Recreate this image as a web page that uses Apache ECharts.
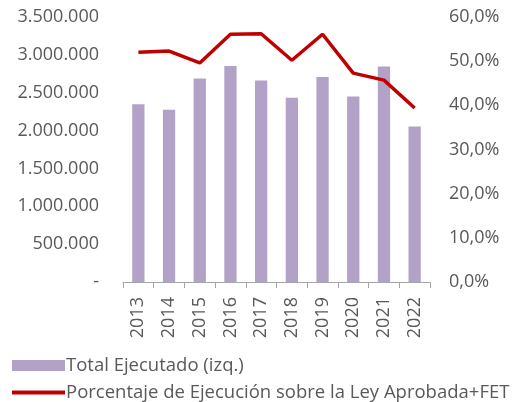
<!DOCTYPE html>
<html><head><meta charset="utf-8">
<script src="https://cdn.jsdelivr.net/npm/echarts@6/dist/echarts.min.js"></script>
<style>html,body{margin:0;padding:0;background:#fff}#c{width:513px;height:402px}</style>
</head><body><div id="c"></div>
<script>
var years = ['2013','2014','2015','2016','2017','2018','2019','2020','2021','2022'];
var totalEjecutado = [2347000, 2276000, 2687000, 2854000, 2661000, 2435000, 2709000, 2449000, 2846000, 2055000];
var porcentaje = [52.0, 52.3, 49.6, 56.1, 56.2, 50.2, 56.1, 47.3, 45.7, 39.4];
var leftTicks = [0, 500000, 1000000, 1500000, 2000000, 2500000, 3000000, 3500000];
var rightTicks = [0, 10, 20, 30, 40, 50, 60];
var nameBar = 'Total Ejecutado (izq.)';
var nameLine = 'Porcentaje de Ejecución sobre la Ley Aprobada+FET';

var FONT = 'Open Sans';
var TXT = '#595959';
function fmtThousands(v){
  if (v === 0) return '-';
  return String(Math.round(v)).replace(/\B(?=(\d{3})+(?!\d))/g, '.');
}
var chart = echarts.init(document.getElementById('c'), null, {renderer:'canvas'});
chart.setOption({
  animation:false,
  textStyle:{fontFamily:FONT},
  grid:{left:123, right:83, top:17, bottom:120},
  legend:[{
    data:[{name:nameBar, icon:'rect'}],
    left:7, top:351, itemWidth:53, itemHeight:11, itemGap:0,
    textStyle:{fontFamily:FONT, fontSize:18.5, color:TXT, padding:[0,0,0,-4]},
    selectedMode:false
  },{
    data:[{name:nameLine, icon:'rect'}],
    left:7, top:378, itemWidth:53, itemHeight:4, itemGap:0,
    textStyle:{fontFamily:FONT, fontSize:18.5, color:TXT, padding:[0,0,0,-4]},
    selectedMode:false
  }],
  xAxis:{
    type:'category', data:years,
    axisLine:{lineStyle:{color:'#a6a6a6', width:1}},
    axisTick:{show:true, alignWithLabel:false, length:6, lineStyle:{color:'#a6a6a6'}},
    axisLabel:{rotate:90, color:TXT, fontSize:18, fontFamily:FONT, margin:15, interval:0}
  },
  yAxis:[{
    type:'value', min:leftTicks[0], max:leftTicks[leftTicks.length-1], interval:500000,
    splitLine:{show:false}, axisLine:{show:false}, axisTick:{show:false},
    axisLabel:{color:TXT, fontSize:18, fontFamily:FONT, margin:24, formatter:fmtThousands}
  },{
    type:'value', min:rightTicks[0], max:rightTicks[rightTicks.length-1], interval:10,
    splitLine:{show:false}, axisLine:{show:false}, axisTick:{show:false},
    axisLabel:{color:TXT, fontSize:18, fontFamily:FONT, margin:19, formatter:function(v){return v.toFixed(1).replace('.',',')+'%';}}
  }],
  series:[{
    name:nameBar, type:'bar', data:totalEjecutado, barWidth:'40%',
    itemStyle:{color:'#b3a2c7'}, yAxisIndex:0
  },{
    name:nameLine, type:'line', data:porcentaje, yAxisIndex:1,
    symbol:'none', lineStyle:{color:'#c00000', width:3.5}, itemStyle:{color:'#c00000'}
  }]
});
</script></body></html>
